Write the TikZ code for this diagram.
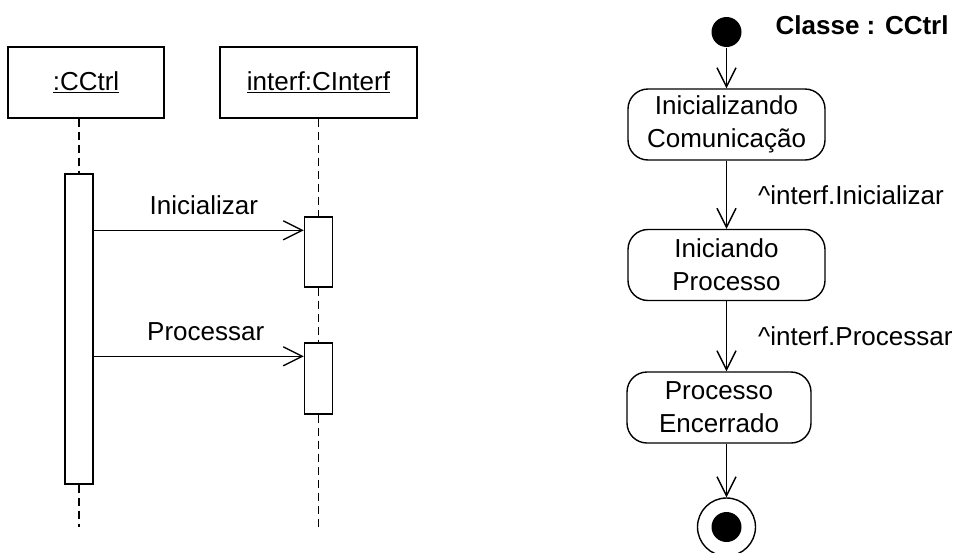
\documentclass[tikz,border=0pt]{standalone}
\usepackage{fontspec}
\setmainfont{Liberation Sans}
\usetikzlibrary{arrows.meta}
\begin{document}
\begin{tikzpicture}[x=1pt,y=-1pt,line width=1.4pt,
  txt/.style={font=\fontsize{26}{30}\selectfont, inner sep=0pt},
  objbox/.style={draw, rectangle, fill=white, minimum width=#1, minimum height=71pt, inner sep=0pt, font=\fontsize{26}{30}\selectfont},
  actbox/.style={draw, rectangle, fill=white, minimum width=28pt, minimum height=#1, inner sep=0pt},
  lifeline/.style={dash pattern=on 8pt off 5pt},
  msg/.style={-{Straight Barb[length=19pt,width=19pt]}},
  stbox/.style={draw, rectangle, rounded corners=20pt, minimum height=71pt, minimum width=#1, inner sep=0pt, align=center, font=\fontsize{26}{33}\selectfont},
  lbl/.style={txt, anchor=west}
]
\useasboundingbox (0,0) rectangle (966,552);

% ---------- sequence diagram ----------
\node[objbox=156pt] (cctrl) at (86,82.5) {\underline{:CCtrl}};
\node[objbox=197pt] (interf) at (318.5,82.5) {\underline{interf:CInterf}};

\node[actbox=310pt] (actA) at (79,329) {};
\node[actbox=70pt] (act1) at (318.5,252) {};
\node[actbox=71pt] (act2) at (318.5,378.5) {};

\coordinate (endA) at (79,527);
\coordinate (endB) at (318.5,527);

\draw[lifeline] (actA.north |- cctrl.south) -- (actA.north);
\draw[lifeline] (actA.south) -- (endA);
\draw[lifeline] (interf.south) -- (act1.north);
\draw[lifeline] (act1.south) -- (act2.north);
\draw[lifeline] (act2.south) -- (endB);

\coordinate (m1) at ([yshift=-14pt]act1.north west);
\coordinate (m2) at ([yshift=-14pt]act2.north west);
\draw[msg] (actA.east |- m1) -- node[txt, above=15pt, xshift=5pt] (l1) {Inicializar} (m1);
\draw[msg] (actA.east |- m2) -- node[txt, above=15pt, xshift=7pt] (l2) {Processar} (m2);

% ---------- state diagram ----------
\node[txt, anchor=west, font=\fontsize{26}{30}\selectfont\bfseries] (title) at (775,25) {Classe : CCtrl};

\node[circle, fill=black, minimum size=30pt, inner sep=0pt] (start) at (726.5,32) {};
\node[stbox=197pt] (s1) at (726.5,124.5) {Inicializando\\Comunicação};
\node[stbox=197pt] (s2) at (726.5,265) {Iniciando\\Processo};
\node[stbox=184pt] (s3) at (719,407.5) {Processo\\Encerrado};
\node[circle, draw, minimum size=58pt, inner sep=0pt] (fin) at (726.5,527) {};
\node[circle, fill=black, minimum size=30pt, inner sep=0pt] (finin) at (fin.center) {};

\draw[msg] (start) -- (s1.north);
\draw[msg] (s1.south) -- node[lbl, right=31pt] (t1) {\textasciicircum interf.Inicializar} (s2.north);
\draw[msg] (s2.south) -- node[lbl, right=31pt] (t2) {\textasciicircum interf.Processar} (s2.south |- s3.north);
\draw[msg] (s2.south |- s3.south) -- (fin.north);
\end{tikzpicture}
\end{document}
